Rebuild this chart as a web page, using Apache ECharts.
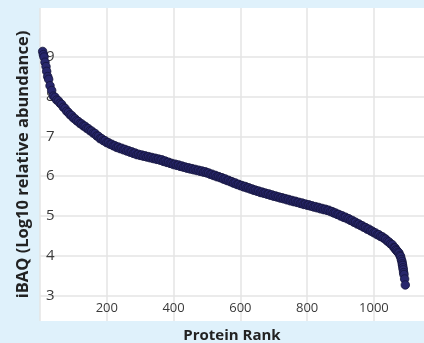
<!DOCTYPE html>
<html>
<head>
<meta charset="utf-8">
<script src="https://cdn.jsdelivr.net/npm/echarts@6/dist/echarts.min.js"></script>
<style>
html,body{margin:0;padding:0;background:#dff1fb;overflow:hidden;}
#chart{width:424px;height:343px;display:block;}
</style>
</head>
<body>
<div id="chart"></div>
<script>
const ranks = [8,10,12,15,18,20,23,26,30,35,40,
45,50,55,60,65,70,75,80,85,90,95,100,105,110,115,120,125,130,135,140,145,150,155,160,165,170,175,180,185,190,195,200,
205,210,215,220,225,230,235,240,245,250,255,260,265,270,275,280,285,290,295,300,
305,310,315,320,325,330,335,340,345,350,355,360,365,370,375,380,385,390,395,400,
405,410,415,420,425,430,435,440,445,450,455,460,465,470,475,480,485,490,495,500,
505,510,515,520,525,530,535,540,545,550,555,560,565,570,575,580,585,590,595,600,
605,610,615,620,625,630,635,640,645,650,655,660,665,670,675,680,685,690,695,700,
705,710,715,720,725,730,735,740,745,750,755,760,765,770,775,780,785,790,795,800,
805,810,815,820,825,830,835,840,845,850,855,860,865,870,875,880,885,890,895,900,
905,910,915,920,925,930,935,940,945,950,955,960,965,970,975,980,985,990,995,1000,
1005,1010,1015,1020,1025,1030,1035,1040,1045,1050,1055,1060,
1063,1066,1069,1072,1075,1078,1080,1082,1084,1085,1086,1087,1088,1089,1090,1092,1094];
const ibaq = [9.13,9.05,8.99,8.86,8.75,8.63,8.50,8.43,8.27,8.15,8.01,
7.98,7.91,7.89,7.83,7.80,7.73,7.70,7.63,7.60,7.54,7.52,7.46,7.44,7.39,7.37,7.32,7.31,7.26,7.25,7.20,7.19,7.14,7.13,7.08,7.07,7.01,7.00,6.94,6.94,6.89,6.89,6.84,
6.84,6.80,6.80,6.76,6.76,6.72,6.73,6.69,6.70,6.66,6.67,6.63,6.64,6.60,6.61,6.57,6.58,6.54,6.55,6.52,
6.53,6.50,6.51,6.48,6.49,6.46,6.47,6.44,6.45,6.42,6.43,6.40,6.41,6.37,6.38,6.345,6.35,6.32,6.32,6.29,
6.30,6.27,6.28,6.245,6.255,6.225,6.23,6.20,6.21,6.18,6.19,6.16,6.17,6.14,6.15,6.12,6.13,6.10,6.11,6.08,
6.08,6.045,6.05,6.015,6.02,5.985,5.99,5.96,5.96,5.925,5.93,5.89,5.895,5.86,5.86,5.825,5.83,5.79,5.795,5.76,
5.765,5.73,5.74,5.705,5.71,5.675,5.68,5.645,5.65,5.62,5.625,5.59,5.60,5.57,5.575,5.545,5.555,5.52,5.53,5.495,
5.505,5.475,5.48,5.45,5.46,5.43,5.435,5.405,5.415,5.38,5.39,5.36,5.37,5.34,5.345,5.315,5.325,5.29,5.30,5.27,
5.28,5.25,5.255,5.225,5.235,5.205,5.215,5.18,5.19,5.16,5.17,5.14,5.145,5.11,5.11,5.075,5.075,5.04,5.04,5.00,
5.005,4.965,4.97,4.93,4.93,4.89,4.89,4.845,4.845,4.80,4.80,4.76,4.755,4.715,4.71,4.67,4.67,4.625,4.62,4.58,
4.575,4.53,4.53,4.485,4.48,4.44,4.42,4.37,4.35,4.30,4.28,4.21,
4.20,4.15,4.13,4.09,4.07,4.01,3.98,3.91,3.86,3.80,3.76,3.70,3.65,3.58,3.53,3.42,3.27];
const yTickValues = [3,4,5,6,7,8,9];
const xGridValues = [0,200,400,600,800,1000];
const xTickLabels = [200,400,600,800,1000];

const chart = echarts.init(document.getElementById('chart'), null, {renderer:'canvas', width:424, height:343});
chart.setOption({
  backgroundColor: '#dff1fb',
  animation: false,
  grid: {left: 40, top: 8, right: 0, bottom: 22, show: true, backgroundColor: '#ffffff', borderWidth: 0, containLabel: false, outerBoundsMode: 'none'},
  xAxis: {
    type: 'value', min: 0, max: 1150,
    name: 'Protein Rank', nameLocation: 'middle', nameGap: 7,
    nameTextStyle: {fontFamily: 'Open Sans', fontWeight: 'bold', fontSize: 15, color: '#222', verticalAlign: 'top'},
    axisLine: {show: false},
    axisTick: {show: false, customValues: xGridValues},
    axisLabel: {inside: true, margin: 6, customValues: xTickLabels, formatter: v => String(v), fontFamily: 'Open Sans', fontSize: 13, color: '#3a3a3a'},
    splitLine: {show: true, lineStyle: {color: '#e4e4e4', width: 1.5}}
  },
  yAxis: {
    type: 'value', min: 2.365, max: 10.22,
    name: 'iBAQ (Log10 relative abundance)', nameLocation: 'middle', nameGap: 8, nameRotate: 90,
    nameTextStyle: {fontFamily: 'Open Sans', fontWeight: 'bold', fontSize: 16.5, color: '#222'},
    axisLine: {show: false},
    axisTick: {show: false, customValues: yTickValues},
    axisLabel: {inside: true, margin: 6, customValues: yTickValues, formatter: v => String(v), fontFamily: 'Open Sans', fontSize: 15, color: '#3a3a3a'},
    splitLine: {show: true, lineStyle: {color: '#e4e4e4', width: 1.5}}
  },
  series: [{
    type: 'scatter',
    data: ranks.map((r, i) => [r, ibaq[i]]),
    symbolSize: 8.5,
    clip: false,
    itemStyle: {color: '#28276c', borderColor: '#14143a', borderWidth: 0.8, opacity: 1}
  }]
});
</script>
</body>
</html>
